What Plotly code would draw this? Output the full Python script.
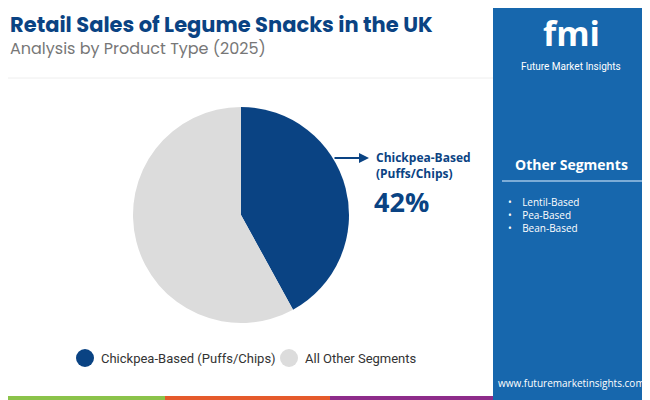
import plotly.graph_objects as go

labels = ['Chickpea-Based (Puffs/Chips)', 'All Other Segments']
values = [42, 58]
colors = ['#0a4383', '#dcdcdc']
other_segments = ['Lentil-Based', 'Pea-Based', 'Bean-Based']

# page body adds an 8px offset, so the figure is a bit smaller than the window
OFF = 8
W, H = 650 - OFF, 400 - OFF
def px(x): return max(0, (x - OFF) / W)
def py(y): return min(1, 1 - (y - OFF) / H)

fig = go.Figure()
fig.add_trace(go.Pie(
	labels=labels, values=values, sort=False, direction='clockwise', rotation=0,
	marker=dict(colors=colors, line=dict(color='white', width=0)),
	textinfo='none', hoverinfo='label+percent', showlegend=False,
	domain=dict(x=[px(133), px(349)], y=[py(323), py(107)])
))

shapes = []
# right panel
shapes.append(dict(type='rect', xref='paper', yref='paper', x0=px(493), x1=1, y0=0, y1=1,
	fillcolor='#1767ad', line=dict(width=0), layer='below'))
# divider in panel
shapes.append(dict(type='line', xref='paper', yref='paper', x0=px(502), x1=px(642), y0=py(181), y1=py(181),
	line=dict(color='#9fc3e6', width=1.5)))
# title underline
shapes.append(dict(type='line', xref='paper', yref='paper', x0=0, x1=px(493), y0=py(78), y1=py(78),
	line=dict(color='#eeeeee', width=1)))
# bottom stripes
for x0, x1, c in [(0, 165, '#8bc34a'), (165, 330, '#e55a2b'), (330, 493, '#8e2c8a')]:
	shapes.append(dict(type='rect', xref='paper', yref='paper', x0=px(x0), x1=px(x1), y0=0, y1=py(396),
		fillcolor=c, line=dict(width=0)))
# legend markers
for cx, c in [(85, colors[0]), (289, colors[1])]:
	shapes.append(dict(type='circle', xref='paper', yref='paper', x0=px(cx - 9), x1=px(cx + 9),
		y0=py(358 + 9), y1=py(358 - 9), fillcolor=c, line=dict(width=0)))

ann = []
ann.append(dict(x=px(8), y=py(24), text='<b>Retail Sales of Legume Snacks in the UK</b>', showarrow=False,
	xanchor='left', yanchor='middle', font=dict(family='Poppins, Open Sans', size=21, color='#0a4383')))
ann.append(dict(x=px(8), y=py(48), text='Analysis by Product Type (2025)', showarrow=False,
	xanchor='left', yanchor='middle', font=dict(family='Poppins, Open Sans', size=16, color='#777777')))
# pointer
ann.append(dict(x=px(369), y=py(158), ax=-36, ay=0, xref='paper', yref='paper',
	text='', showarrow=True, arrowhead=2, arrowsize=1, arrowwidth=2, arrowcolor='#0a4383'))
ann.append(dict(x=px(374), y=py(165), text='<b>Chickpea-Based<br>(Puffs/Chips)</b>', showarrow=False, align='left',
	xanchor='left', yanchor='middle', font=dict(family='Open Sans', size=12, color='#0a4383')))
ann.append(dict(x=px(372), y=py(201), text='<b>42%</b>', showarrow=False,
	xanchor='left', yanchor='middle', font=dict(family='Open Sans', size=27, color='#0a4383')))
# legend texts
ann.append(dict(x=px(99), y=py(358), text=labels[0], showarrow=False, xanchor='left', yanchor='middle',
	font=dict(family='Roboto', size=13, color='#333333')))
ann.append(dict(x=px(303), y=py(358), text=labels[1], showarrow=False, xanchor='left', yanchor='middle',
	font=dict(family='Roboto', size=13, color='#333333')))
# panel
ann.append(dict(x=px(571), y=py(33), text='<b>fmi</b>', showarrow=False, xanchor='center', yanchor='middle',
	font=dict(family='Open Sans', size=34, color='white')))
ann.append(dict(x=px(571), y=py(67), text='Future Market Insights', showarrow=False, xanchor='center', yanchor='middle',
	font=dict(family='Roboto', size=10, color='white')))
ann.append(dict(x=px(571), y=py(164), text='<b>Other Segments</b>', showarrow=False, xanchor='center', yanchor='middle',
	font=dict(family='Open Sans', size=14, color='white')))
for i, s in enumerate(other_segments):
	ann.append(dict(x=px(506), y=py(202 + 13 * i), text='•&nbsp;&nbsp;&nbsp;&nbsp;' + s, showarrow=False,
		xanchor='left', yanchor='middle', font=dict(family='Open Sans', size=10, color='white')))
ann.append(dict(x=px(571), y=py(383), text='www.futuremarketinsights.com', showarrow=False, xanchor='center',
	yanchor='middle', font=dict(family='Open Sans', size=10, color='white')))

fig.update_layout(width=W, height=H, margin=dict(l=0, r=0, t=0, b=0), paper_bgcolor='white',
	plot_bgcolor='white', shapes=shapes, annotations=ann)
fig.write_html('out.html')
